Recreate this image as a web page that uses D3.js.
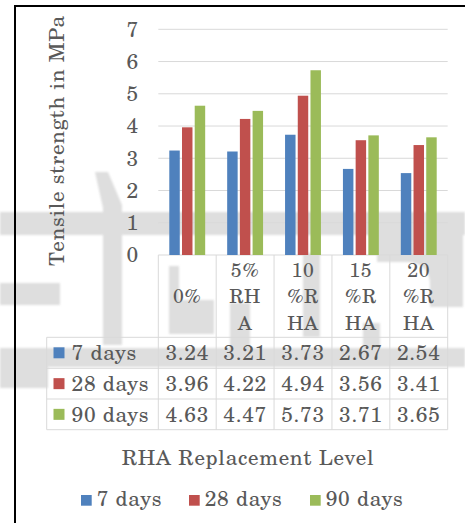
<!DOCTYPE html>
<html>
<head>
<meta charset="utf-8">
<script src="https://cdn.jsdelivr.net/npm/d3@7/dist/d3.min.js"></script>
<style>
  html, body { margin: 0; padding: 0; background: #fff; }
  svg { display: block; }
</style>
</head>
<body>
<svg id="chart" width="465" height="523"></svg>
<script>
// RHA replacement levels and tensile strength (MPa) at each curing age
const categories = ["0%", "5% RHA", "10%RHA", "15%RHA", "20%RHA"];
const categoryLines = [["0%"], ["5%", "RH", "A"], ["10", "%R", "HA"], ["15", "%R", "HA"], ["20", "%R", "HA"]];
const seriesNames = ["7 days", "28 days", "90 days"];
const days7 = [3.24, 3.21, 3.73, 2.67, 2.54];
const days28 = [3.96, 4.22, 4.94, 3.56, 3.41];
const days90 = [4.63, 4.47, 5.73, 3.71, 3.65];
const yTicks = [0, 1, 2, 3, 4, 5, 6, 7];
const colors = ["#4f81bd", "#c0504d", "#9bbb59"];

const series = [days7, days28, days90];

const svg = d3.select("#chart");

// faint background watermark behind the chart
const defs = svg.append("defs");
defs.append("filter").attr("id", "soft")
  .append("feGaussianBlur").attr("stdDeviation", 1.3);
const wm = svg.append("g").attr("filter", "url(#soft)").attr("fill", "#dedede");
const wmShapes = [
  "M0,212 H465 V235 H0 Z",
  "M0,283 H60 V305 H0 Z",
  "M0,348 H465 V367 H0 Z",
  "M0,367 H48 V388 H0 Z",
  "M95,172 L108,172 L122,205 L122,345 L103,345 L103,208 Z",
  "M169,266 H179 V300 H214 V334 H169 Z",
  "M303,253 H320 V337 H303 Z",
  "M230,303 H250 V350 H230 Z",
  "M363,323 H380 V350 H363 Z",
  "M392,212 H450 Q463,214 463,230 V307 H430 V285 Q430,262 405,262 H377 V228 Q377,212 392,212 Z"
];
wm.selectAll("path").data(wmShapes).join("path").attr("d", d => d);

// page frame
svg.append("line").attr("x1", 14).attr("x2", 465).attr("y1", 6).attr("y2", 6)
  .attr("stroke", "#000").attr("stroke-width", 2);
svg.append("line").attr("x1", 15).attr("x2", 15).attr("y1", 5).attr("y2", 523)
  .attr("stroke", "#000").attr("stroke-width", 2);

const plotLeft = 158.3, plotRight = 447.7, plotTop = 29.3, plotBottom = 255;
const tableLeft = 46.7;
const rowTops = [337.3, 368.3, 399, 429.7];

const x = d3.scaleBand().domain(categories).range([plotLeft, plotRight]).padding(0);
const y = d3.scaleLinear().domain([0, 7]).range([plotBottom, plotTop]);
const bw = x.bandwidth();
const x1 = d3.scaleBand().domain(d3.range(series.length))
  .range([bw * 0.19, bw * 0.81]).paddingInner(0.176).paddingOuter(0);

const gridColor = "#d9d9d9";
const textColor = "#595959";
const fs = 21;

// horizontal gridlines
svg.append("g").selectAll("line").data(yTicks).join("line")
  .attr("x1", plotLeft).attr("x2", plotRight)
  .attr("y1", d => y(d)).attr("y2", d => y(d))
  .attr("stroke", gridColor).attr("stroke-width", 1);

// y tick labels
svg.append("g").selectAll("text").data(yTicks).join("text")
  .attr("x", 139).attr("y", d => y(d)).attr("dy", "0.35em")
  .attr("text-anchor", "end").attr("font-size", fs).attr("fill", textColor)
  .text(d => d);

// y axis title
svg.append("text")
  .attr("transform", "translate(63.5,140.5) rotate(-90)")
  .attr("text-anchor", "middle").attr("font-size", fs).attr("fill", textColor)
  .text("Tensile strength in MPa");

// bars
const groups = svg.append("g").selectAll("g").data(categories).join("g")
  .attr("transform", d => `translate(${x(d)},0)`);
groups.selectAll("rect")
  .data((c, i) => series.map((s, k) => ({ k, v: s[i] })))
  .join("rect")
  .attr("x", d => x1(d.k)).attr("width", x1.bandwidth())
  .attr("y", d => y(d.v)).attr("height", d => y(0) - y(d.v))
  .attr("fill", d => colors[d.k]);

// data table grid
const tableBottom = rowTops[rowTops.length - 1];
const tbl = svg.append("g").attr("stroke", gridColor).attr("stroke-width", 1);
tbl.selectAll("line.h").data(rowTops).join("line").attr("class", "h")
  .attr("x1", tableLeft).attr("x2", plotRight)
  .attr("y1", d => d).attr("y2", d => d);
const colEdges = categories.map(c => x(c)).concat([plotRight]);
tbl.selectAll("line.v").data(colEdges).join("line").attr("class", "v")
  .attr("x1", d => d).attr("x2", d => d)
  .attr("y1", plotBottom).attr("y2", tableBottom);
tbl.append("line").attr("x1", tableLeft).attr("x2", tableLeft)
  .attr("y1", rowTops[0]).attr("y2", tableBottom);

// category header labels, one text per wrapped line
const lineGap = 26.5;
const headerFs = 19.5;
const headerMid = (plotBottom + rowTops[0]) / 2 + 0.3;
categories.forEach((c, i) => {
  const lines = categoryLines[i];
  svg.append("g").selectAll("text").data(lines).join("text")
    .attr("x", x(c) + bw / 2)
    .attr("y", (ln, j) => headerMid + (j - (lines.length - 1) / 2) * lineGap)
    .attr("dy", "0.35em")
    .attr("text-anchor", "middle").attr("font-size", headerFs).attr("fill", textColor)
    .text(ln => ln);
});

// table rows: legend key, series name, values
seriesNames.forEach((name, k) => {
  const cy = (rowTops[k] + rowTops[k + 1]) / 2;
  svg.append("rect").attr("x", 53.5).attr("y", cy - 5.5).attr("width", 11).attr("height", 11)
    .attr("fill", colors[k]);
  svg.append("text").attr("x", 71.5).attr("y", cy).attr("dy", "0.35em")
    .attr("font-size", fs).attr("fill", textColor).text(name);
  svg.append("g").selectAll("text").data(series[k]).join("text")
    .attr("x", (d, i) => x(categories[i]) + bw / 2)
    .attr("y", cy).attr("dy", "0.35em")
    .attr("text-anchor", "middle").attr("font-size", fs).attr("fill", textColor)
    .text(d => d.toFixed(2));
});

// x axis title
svg.append("text").attr("x", 248).attr("y", 465)
  .attr("text-anchor", "middle").attr("font-size", fs).attr("fill", textColor)
  .text("RHA Replacement Level");

// legend
const legendX = [81, 189, 310];
const legend = svg.append("g").selectAll("g").data(seriesNames).join("g")
  .attr("transform", (d, i) => `translate(${legendX[i]},0)`);
legend.append("rect").attr("x", 0).attr("y", 495).attr("width", 10.7).attr("height", 10.7)
  .attr("fill", (d, i) => colors[i]);
legend.append("text").attr("x", 15.7).attr("y", 506).attr("font-size", fs).attr("fill", textColor)
  .text(d => d);

// Century-style serif face, slightly tracked out, for every label
svg.selectAll("text")
  .style("font-family", '"TeX Gyre Schola"')
  .style("letter-spacing", "0.7px");
</script>
</body>
</html>
